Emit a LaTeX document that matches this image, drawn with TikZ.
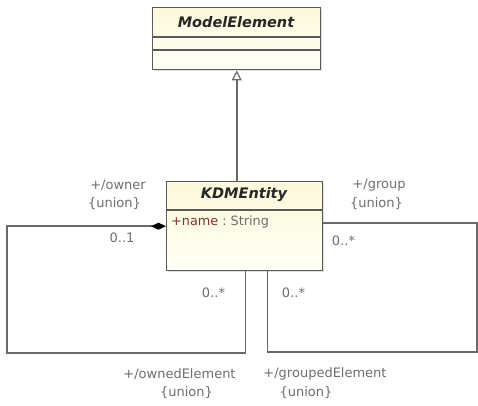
\documentclass[tikz,border=0pt]{standalone}
\usepackage{fontspec}
\setmainfont{DejaVu Sans}
\usetikzlibrary{arrows.meta,shadows}
\definecolor{linegray}{RGB}{105,105,105}
\definecolor{boxedge}{RGB}{90,90,90}
\definecolor{txtgray}{RGB}{110,110,110}
\definecolor{attrred}{RGB}{128,50,40}
\definecolor{fillA}{RGB}{252,249,218}
\definecolor{fillB}{RGB}{255,255,246}
\tikzset{
  umlclass/.style={draw=boxedge, line width=1.4pt, rectangle, inner sep=0pt,
    top color=fillA, bottom color=fillB,
    drop shadow={shadow xshift=1.5pt, shadow yshift=-1.5pt, opacity=0.25}},
  sep/.style={draw=boxedge, line width=1.4pt},
  title/.style={font=\fontsize{14.5}{16}\selectfont\bfseries\itshape, text=black!85, inner sep=0pt},
  lbl/.style={font=\fontsize{13}{14}\selectfont, text=txtgray, inner sep=0pt},
  attr/.style={font=\fontsize{12.8}{14}\selectfont, inner sep=0pt, anchor=west},
  conn/.style={draw=linegray, line width=1.7pt},
}
\begin{document}
\begin{tikzpicture}[x=1pt,y=-1pt]
\useasboundingbox (0,0) rectangle (478,405);
% ModelElement
\node[umlclass, minimum width=168pt, minimum height=62pt, anchor=north west] (me) at (152,7) {};
\node[title] (metitle) at (236,22) {ModelElement};
\draw[sep] (152,37) -- (320,37);
\draw[sep] (152,50) -- (320,50);
% KDMEntity
\node[umlclass, minimum width=156pt, minimum height=89pt, anchor=north west] (kdm) at (166,181) {};
\node[title] (kdmtitle) at (244,195) {KDMEntity};
\draw[sep] (166,210) -- (322,210);
\node[attr] (attr) at (171,222) {\color{attrred}+name\color{txtgray}\ :\ String};
% generalization
\draw[conn, -{Triangle[open, length=10pt, width=10pt, line width=1.2pt]}] (kdm.north -| me.south) -- (me.south);
% owner / ownedElement loop
\coordinate (l2) at (7,353);
\coordinate (l3) at (245.5,353);
\draw[conn, {Diamond[length=15pt, width=7pt, fill=black, color=black]}-] (kdm.west) -- (kdm.west -| l2) -- (l2) -- (l3) -- (l3 |- kdm.south);
% group / groupedElement loop
\coordinate (r0) at ([yshift=3.5pt]kdm.east);
\coordinate (r2) at (477,352);
\coordinate (r3) at (267.5,352);
\draw[conn] (r0) -- (r0 -| r2) -- (r2) -- (r3) -- (r3 |- kdm.south);
% labels
\node[lbl] (owner) at (118,185) {+/owner};
\node[lbl] (ownerU) at (114.5,204) {\{union\}};
\node[lbl] (m01) at (122,238) {0..1};
\node[lbl] (group) at (379,185) {+/group};
\node[lbl] (groupU) at (376.5,204) {\{union\}};
\node[lbl] (mg) at (343.5,241) {0..*};
\node[lbl] (mo) at (213.5,293) {0..*};
\node[lbl] (mge) at (293.5,293) {0..*};
\node[lbl] (owned) at (179.5,374) {+/ownedElement};
\node[lbl] (ownedU) at (186.5,393) {\{union\}};
\node[lbl] (grouped) at (325,374) {+/groupedElement};
\node[lbl] (groupedU) at (306,393) {\{union\}};
\end{tikzpicture}
\end{document}
